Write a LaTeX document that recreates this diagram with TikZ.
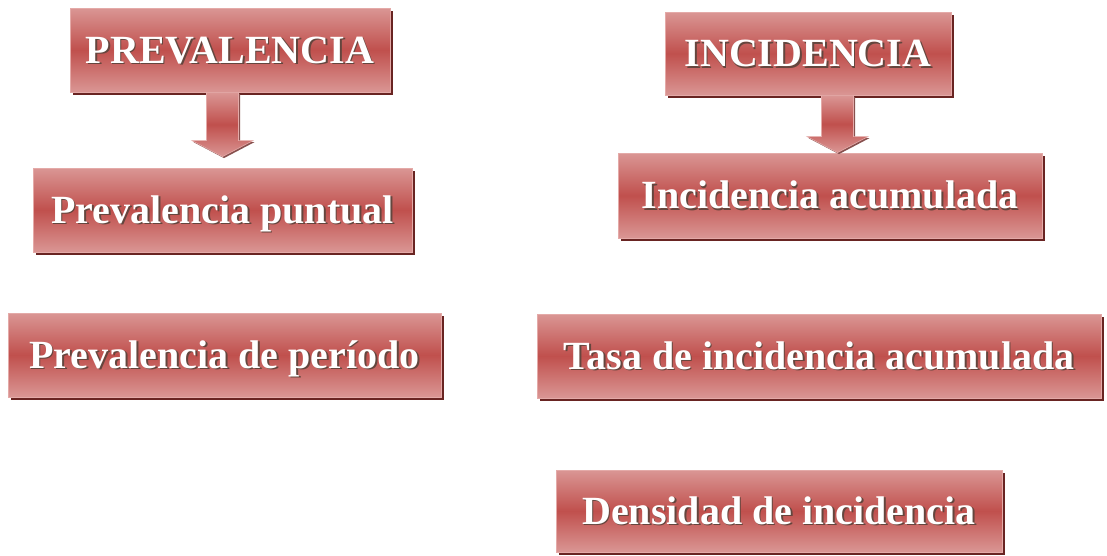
\documentclass[tikz,border=0pt]{standalone}
\usepackage{fontspec}
\setmainfont{Liberation Serif}
\usetikzlibrary{shadows,calc}
\definecolor{boxlight}{RGB}{218,150,148}
\definecolor{boxmid}{RGB}{192,80,77}
\definecolor{boxedge}{RGB}{228,170,168}
\definecolor{boxshadow}{RGB}{105,36,34}
\definecolor{txtshadow}{RGB}{100,70,62}
\newcommand\embtext[1]{\makebox[0pt][l]{\kern1.6pt\raisebox{-1.6pt}{\color{txtshadow}#1}}{\color{white}#1}}
\newcommand\blockarrow[2]{%
  \path[redarrow] let \p1=(#1), \p2=(#2) in
    (\x1-16pt,\y1) -- (\x1+16pt,\y1) -- (\x1+16pt,\y2+16pt) -- (\x1+30.5pt,\y2+16pt)
    -- (\x2,\y2) -- (\x1-30.5pt,\y2+16pt) -- (\x1-16pt,\y2+16pt) -- cycle;}
\tikzset{
  redbox/.style={draw=boxedge, line width=0.8pt,
    top color=boxlight, bottom color=boxlight, middle color=boxmid,
    copy shadow={shadow xshift=3pt, shadow yshift=-3pt, fill=boxshadow, draw=none},
    inner sep=0pt, font=\bfseries\fontsize{40}{44}\selectfont,
    text height=26pt, text depth=0pt},
  redarrow/.style={draw=boxedge, line width=0.6pt,
    top color=boxlight, bottom color=boxlight, middle color=boxmid,
    copy shadow={shadow xshift=1.5pt, shadow yshift=-1.5pt, fill=boxshadow!80, draw=none}}
}
\begin{document}
\begin{tikzpicture}[x=1pt,y=-1pt]
\useasboundingbox[fill=white] (0,0) rectangle (1107,555);
\node[redbox, minimum width=320pt, minimum height=84pt] (p) at (230,50) {\embtext{PREVALENCIA}};
\node[redbox, minimum width=379pt, minimum height=84pt] (pp) at (222.5,210) {\embtext{Prevalencia puntual}};
\node[redbox, minimum width=433pt, minimum height=84pt] (pdp) at (224.5,355) {\embtext{Prevalencia de período}};
\node[redbox, minimum width=286pt, minimum height=83pt] (i) at (808,53.5) {\embtext{INCIDENCIA}};
\node[redbox, minimum width=424pt, minimum height=85pt] (ia) at (830,195.5) {\embtext{Incidencia acumulada}};
\node[redbox, minimum width=564pt, minimum height=84pt] (t) at (819,356) {\embtext{Tasa de incidencia acumulada}};
\node[redbox, minimum width=446pt, minimum height=82pt] (d) at (779,511) {\embtext{Densidad de incidencia}};
\blockarrow{p.south -| pp.north}{$(pp.north)+(0,-11)$}
\blockarrow{$(i.south -| ia.north)+(7.5,0)$}{$(ia.north)+(7.5,0)$}
\end{tikzpicture}
\end{document}
